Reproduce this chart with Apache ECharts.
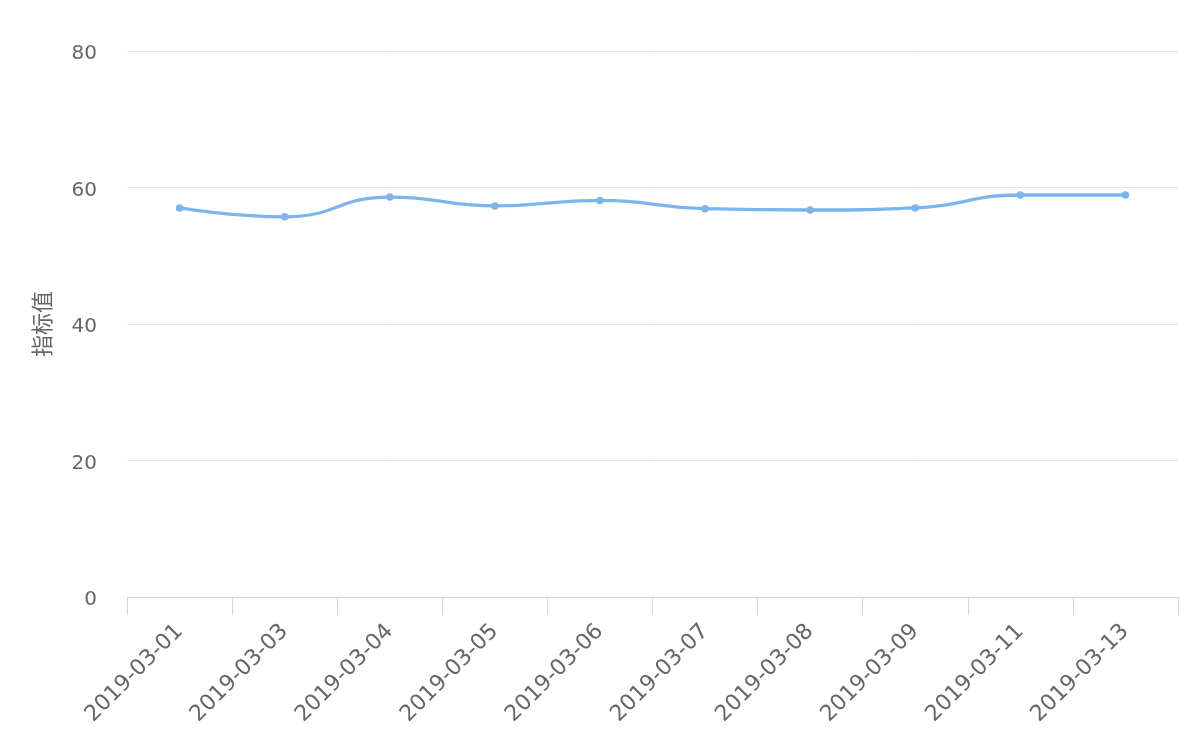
<!DOCTYPE html>
<html>
<head>
<meta charset="utf-8">
<script src="https://cdn.jsdelivr.net/npm/echarts@6/dist/echarts.min.js"></script>
<style>html,body{margin:0;padding:0;background:#fff}#c{width:1204px;height:746px}</style>
</head>
<body>
<div id="c"></div>
<script>
const categories = ['2019-03-01','2019-03-03','2019-03-04','2019-03-05','2019-03-06','2019-03-07','2019-03-08','2019-03-09','2019-03-11','2019-03-13'];
const values = [57.0, 55.7, 58.6, 57.3, 58.1, 56.9, 56.7, 57.0, 58.9, 58.9];
const yName = '指标值';
const FONT = '"DejaVu Sans", "Noto Sans CJK SC", sans-serif';

const chart = echarts.init(document.getElementById('c'));
chart.setOption({
  animation: false,
  backgroundColor: '#fff',
  grid: {left: 127, right: 26, top: 51, bottom: 149, containLabel: false},
  xAxis: {
    type: 'category',
    data: categories,
    boundaryGap: true,
    axisLine: {show: true, lineStyle: {color: '#ccd6eb', width: 1}},
    axisTick: {show: true, length: 18, interval: 0, lineStyle: {color: '#ccd6eb', width: 1}},
    axisLabel: {rotate: 45, color: '#666', fontSize: 22, fontFamily: FONT, margin: 31, interval: 0}
  },
  yAxis: {
    type: 'value',
    min: 0, max: 80, interval: 20,
    name: yName,
    nameLocation: 'middle',
    nameGap: 74,
    nameTextStyle: {color: '#666', fontSize: 22, fontFamily: '"Noto Sans CJK SC", sans-serif'},
    axisLine: {show: false},
    axisTick: {show: false},
    splitLine: {show: true, lineStyle: {color: '#e6e6e6', width: 1}},
    axisLabel: {color: '#666', fontSize: 20, fontFamily: FONT, margin: 30, verticalAlign: 'top', padding: [-7, 0, 0, 0]}
  },
  series: [{
    type: 'line',
    data: values,
    smooth: true,
    symbol: 'circle',
    symbolSize: 7.5,
    lineStyle: {color: '#7cb5ec', width: 3.3},
    itemStyle: {color: '#7cb5ec'}
  }]
});
</script>
</body>
</html>
